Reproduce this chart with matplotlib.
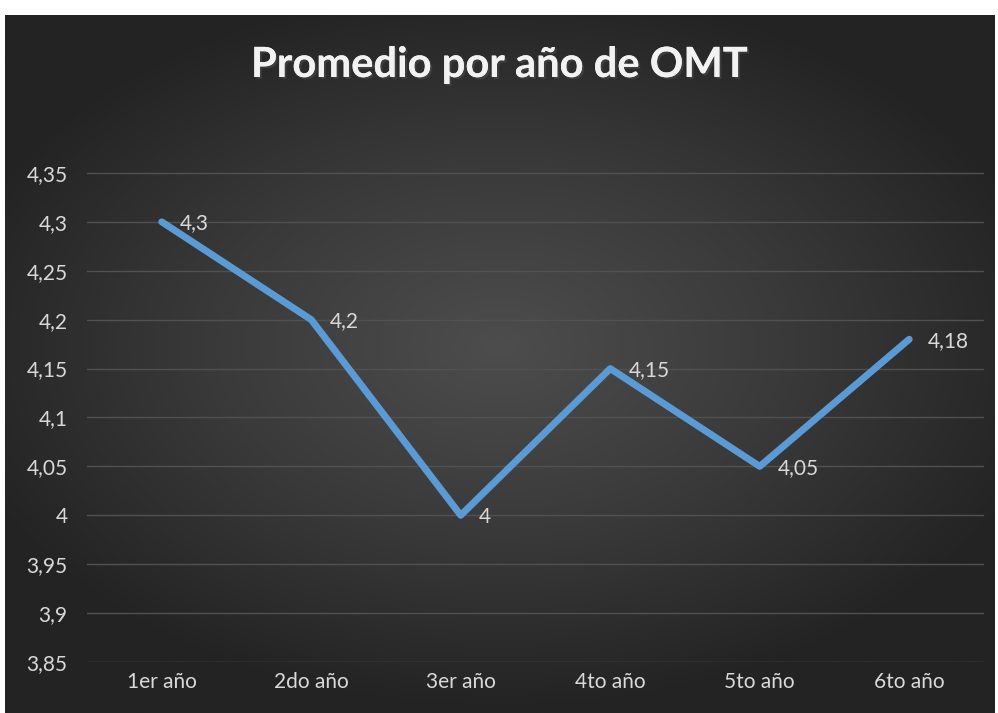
import numpy as np
import matplotlib.pyplot as plt
import matplotlib.patheffects as pe
from matplotlib.colors import LinearSegmentedColormap

# datos del gráfico
categorias = ['1er año', '2do año', '3er año', '4to año', '5to año', '6to año']
promedios = [4.3, 4.2, 4.0, 4.15, 4.05, 4.18]
etiquetas = ['4,3', '4,2', '4', '4,15', '4,05', '4,18']
ticks_y = [3.85, 3.9, 3.95, 4.0, 4.05, 4.1, 4.15, 4.2, 4.25, 4.3, 4.35]

plt.rcParams['font.family'] = ['Lato', 'DejaVu Sans']

fig = plt.figure(figsize=(9.98, 7.13), dpi=100, facecolor='white')

# fondo con degradado radial
bg = fig.add_axes([5 / 998, 0, 990 / 998, 698 / 713])
yy, xx = np.mgrid[-1:1:300j, -1:1:400j]
r = np.sqrt((xx / 1.15) ** 2 + ((yy + 0.05) / 1.05) ** 2)
cmap = LinearSegmentedColormap.from_list('fondo', ['#4d4d4d', '#3a3a3a', '#232323'])
bg.imshow(np.clip(r, 0, 1), cmap=cmap, vmin=0, vmax=1, aspect='auto',
          extent=[0, 1, 0, 1])
bg.set_axis_off()

ax = fig.add_axes([87 / 998, (713 - 662) / 713, (984 - 87) / 998, (662 - 150) / 713])
ax.set_facecolor('none')
x = np.arange(len(categorias))
ax.plot(x, promedios, color='#5B9BD5', lw=5, solid_capstyle='round', zorder=3)
for xi, yi, t in zip(x, promedios, etiquetas):
    ax.annotate(t, (xi, yi), xytext=(13, -1), textcoords='offset points',
                ha='left', va='center', color='#d9d9d9', fontsize=15)

ax.set_xlim(-0.5, len(categorias) - 0.5)
ax.set_ylim(3.85, 4.35 + 0.05 * 23 / 49)
ax.set_yticks(ticks_y)
ax.set_yticklabels([('%g' % v).replace('.', ',') for v in ticks_y])
ax.set_xticks(x)
ax.set_xticklabels(categorias)
ax.tick_params(colors='#d9d9d9', labelsize=15, length=0)
ax.tick_params(axis='y', pad=14)
ax.tick_params(axis='x', pad=7)
ax.grid(axis='y', color='#515151', lw=1)
for s in ax.spines.values():
    s.set_visible(False)

t = fig.text(0.5, 1 - 65 / 713, 'Promedio por año de OMT', ha='center', va='center',
             color='#f2f2f2', fontsize=30, fontweight='bold')
t.set_path_effects([pe.withSimplePatchShadow(offset=(1.5, -1.5), alpha=0.6), pe.Normal()])

plt.savefig('out.png', dpi=100, facecolor='white')
